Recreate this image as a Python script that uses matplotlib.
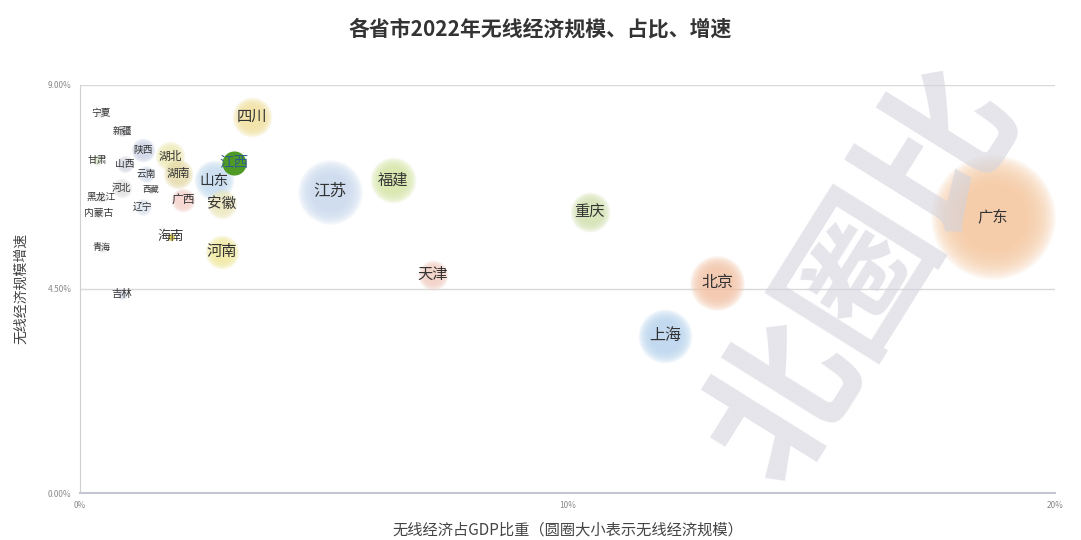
import numpy as np
import matplotlib.pyplot as plt

plt.rcParams['font.family'] = ['Noto Sans CJK SC', 'DejaVu Sans']

# 省市, 无线经济占GDP比重(%), 无线经济规模增速(%), 无线经济规模(相对值)
provinces = ['广东', '江苏', '北京', '上海', '福建', '重庆', '四川', '山东', '河南', '安徽',
             '湖北', '湖南', '江西', '天津', '广西', '陕西', '云南', '河北', '辽宁', '山西',
             '海南', '宁夏', '新疆', '甘肃', '西藏', '黑龙江', '内蒙古', '青海', '吉林']
share = [18.73, 5.13, 13.07, 12.0, 6.42, 10.46, 3.53, 2.75, 2.91, 2.91,
         1.85, 2.01, 3.16, 7.24, 2.11, 1.29, 1.35, 0.86, 1.29, 0.92,
         1.87, 0.43, 0.86, 0.35, 1.46, 0.43, 0.39, 0.45, 0.86]
growth = [6.09, 6.64, 4.64, 3.47, 6.89, 6.20, 8.30, 6.89, 5.32, 6.38,
          7.42, 7.04, 7.28, 4.81, 6.45, 7.57, 7.04, 6.73, 6.31, 7.26,
          5.65, 8.37, 7.99, 7.35, 6.69, 6.53, 6.18, 5.41, 4.39]
scale = [7700, 2100, 1500, 1450, 1050, 800, 800, 800, 580, 450,
         450, 450, 290, 450, 290, 290, 150, 200, 150, 150,
         30, 50, 60, 60, 30, 60, 60, 40, 60]

colors = {'广东': '#f6c59c', '江苏': '#c9d9ef', '北京': '#f4c3a4', '上海': '#b7d4ef',
          '福建': '#d6e6a4', '重庆': '#d3e1ad', '四川': '#f3e19c', '山东': '#c6ddf2',
          '河南': '#f3ea9c', '安徽': '#efe9bc', '湖北': '#efecb4', '湖南': '#e8dcaa',
          '江西': '#4f9a25', '天津': '#f4cfc2', '广西': '#f6d2cb', '陕西': '#cdd5e8',
          '云南': '#d9e2f0', '河北': '#e3e3e3', '辽宁': '#dfe6f2', '山西': '#d9dbe6',
          '海南': '#e3cd36', '宁夏': '#e6e6e6', '新疆': '#d6d6de', '甘肃': '#e0ecd0',
          '西藏': '#e6e6e6', '黑龙江': '#e6e6e6', '内蒙古': '#e6e6e6', '青海': '#e9e9e9',
          '吉林': '#d8dcec'}
label_size = {'广东': 11, '江苏': 12, '北京': 11.5, '上海': 11.5, '福建': 11, '重庆': 11,
              '四川': 11, '山东': 10.5, '河南': 11, '安徽': 10.5, '湖北': 8.5, '湖南': 8.5,
              '江西': 10.5, '天津': 11, '广西': 8.5, '陕西': 7, '云南': 7, '河北': 7,
              '辽宁': 7, '山西': 7, '海南': 9.5, '宁夏': 7, '新疆': 7, '甘肃': 7,
              '西藏': 6, '黑龙江': 7, '内蒙古': 7, '青海': 6.5, '吉林': 7.5}

fig = plt.figure(figsize=(10.81, 5.40), dpi=100)
ax = fig.add_axes([0.074, 0.087, 0.902, 0.756])

for name, x, y, v in zip(provinces, share, growth, scale):
    c = colors[name]
    s = v * 1.04
    if name == '江西':
        ax.scatter(x, y, s=s, color=c, lw=0, zorder=2)
        continue
    for f in np.linspace(1.0, 0.3, 12):
        ax.scatter(x, y, s=s * f, color=c, alpha=0.13, lw=0, zorder=2)
    ax.text(x, y, name, ha='center', va='center', fontsize=label_size[name],
            color='#333333', zorder=4)
ax.text(share[12], growth[12], '江西', ha='center', va='center',
        fontsize=label_size['江西'], color='#2e5f8a', zorder=4)

ax.set_xlim(0, 20)
ax.set_ylim(0, 9)
ax.set_xticks([0, 10, 20])
ax.set_xticklabels(['0%', '10%', '20%'])
ax.set_yticks([0, 4.5, 9])
ax.set_yticklabels(['0.00%', '4.50%', '9.00%'])
ax.tick_params(length=0, labelsize=6, colors='#8a8a8a', pad=6)
for y in [4.5, 9]:
    ax.axhline(y, color='#d9d9d9', lw=1, zorder=1)
for sp in ['top', 'right']:
    ax.spines[sp].set_visible(False)
ax.spines['left'].set_color('#d0d0d0')
ax.spines['bottom'].set_color('#c4c6d2')
ax.spines['bottom'].set_linewidth(1.5)

ax.set_xlabel('无线经济占GDP比重（圆圈大小表示无线经济规模）', fontsize=11, color='#444444', labelpad=8)
ax.set_ylabel('无线经济规模增速', fontsize=10, color='#444444', labelpad=14)
fig.suptitle('各省市2022年无线经济规模、占比、增速', x=0.5, y=0.965, fontsize=15,
             fontweight='bold', color='#333333')

# watermark
fig.text(0.80, 0.49, '北圈比', rotation=58, fontsize=108, fontweight='bold',
         color='#d3d3dd', alpha=0.6, ha='center', va='center', zorder=10)

plt.savefig('out.png')
